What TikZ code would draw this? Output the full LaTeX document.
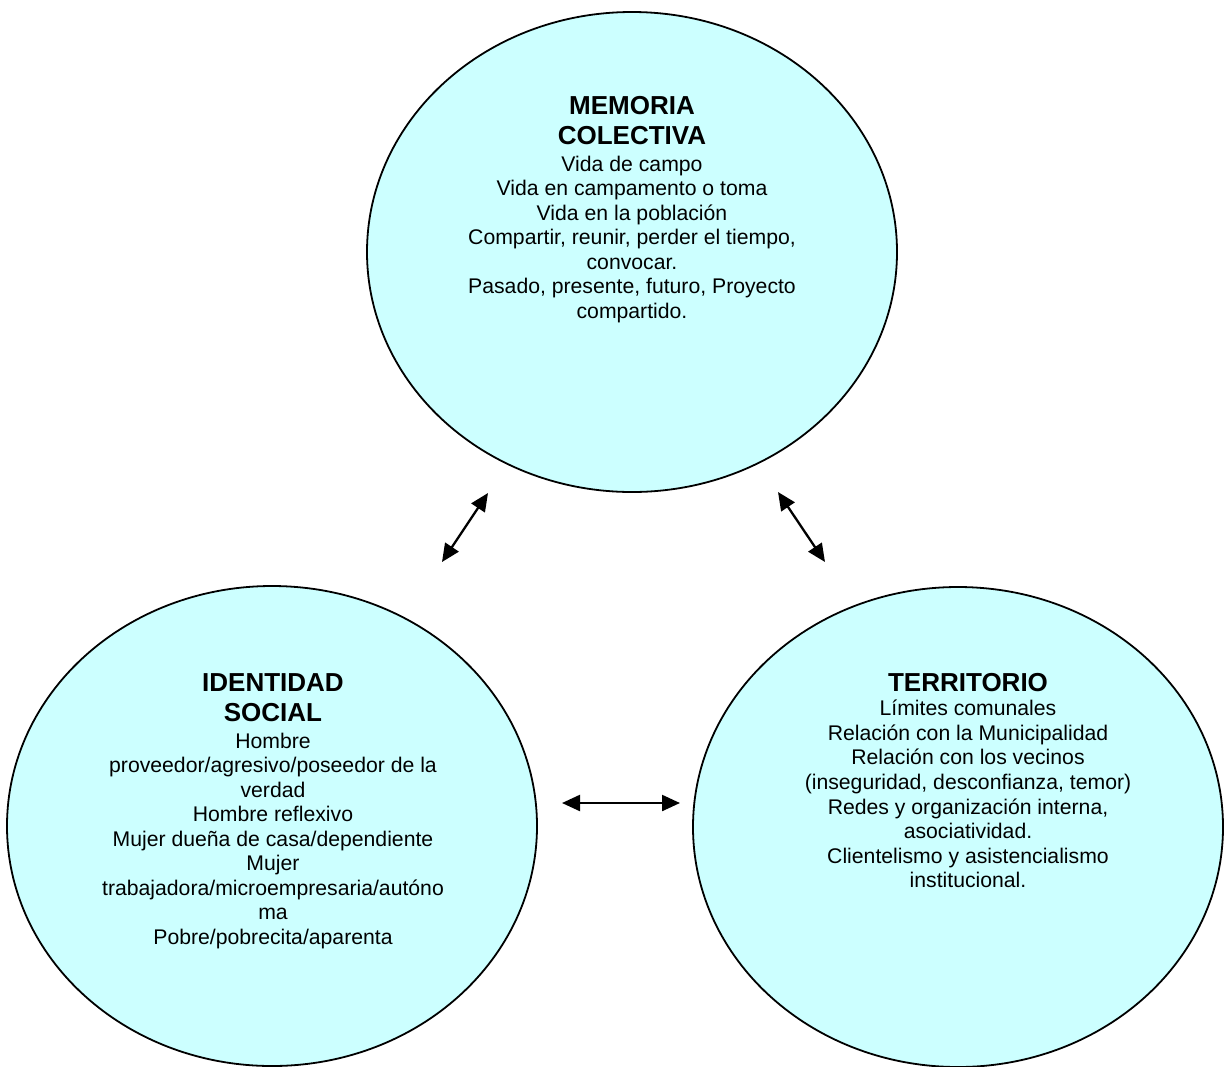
\documentclass[tikz,border=0pt]{standalone}
\usepackage{fontspec}
\setmainfont{Liberation Sans}
\usetikzlibrary{shapes.geometric,arrows.meta}
\definecolor{bubble}{RGB}{204,255,255}
\begin{document}
\begin{tikzpicture}[x=1pt,y=-1pt,
  bubblebox/.style={ellipse,draw=black,line width=1.8pt,fill=bubble,
    minimum width=530pt,minimum height=480pt,inner sep=0pt},
  headtext/.style={anchor=north,align=center,inner sep=0pt,
    font=\fontsize{26}{30}\selectfont\bfseries},
  bodytext/.style={anchor=north,align=center,inner sep=0pt,
    font=\fontsize{21.2}{24.55}\selectfont},
  link/.style={line width=2.3pt,
    {Triangle[length=18pt,width=16pt]}-{Triangle[length=18pt,width=16pt]}}]
\path[use as bounding box,fill=white] (0,0) rectangle (1228,1066);

% the three circles
\node[bubblebox] (mem) at (632,252) {};
\node[bubblebox] (ide) at (272,826) {};
\node[bubblebox] (ter) at (958,827) {};

% MEMORIA COLECTIVA
\node[headtext] (memh) at (632,96) {MEMORIA\\COLECTIVA};
\node[bodytext] (memb) at (632,155.5) {Vida de campo\\
  Vida en campamento o toma\\
  Vida en la población\\
  Compartir, reunir, perder el tiempo,\\
  convocar.\\
  Pasado, presente, futuro, Proyecto\\
  compartido.};

% IDENTIDAD SOCIAL
\node[headtext] (ideh) at (273,673) {IDENTIDAD\\SOCIAL};
\node[bodytext] (ideb) at (273,732.5) {Hombre\\
  proveedor/agresivo/poseedor de la\\
  verdad\\
  Hombre reflexivo\\
  Mujer dueña de casa/dependiente\\
  Mujer\\
  trabajadora/microempresaria/autóno\\
  ma\\
  Pobre/pobrecita/aparenta};

% TERRITORIO
\node[headtext] (terh) at (968,673) {TERRITORIO};
\node[bodytext] (terb) at (968,700) {Límites comunales\\
  Relación con la Municipalidad\\
  Relación con los vecinos\\
  (inseguridad, desconfianza, temor)\\
  Redes y organización interna,\\
  asociatividad.\\
  Clientelismo y asistencialismo\\
  institucional.};

% two-way links between the circles
\coordinate (a1) at (442,562);
\coordinate (a2) at (488,493);
\coordinate (b1) at (778,492);
\coordinate (b2) at (825,562);
\coordinate (c1) at (562,803);
\coordinate (c2) at (680,803);
\draw[link] (a1) -- (a2);
\draw[link] (b1) -- (b2);
\draw[link] (c1) -- (c2);
\end{tikzpicture}
\end{document}
